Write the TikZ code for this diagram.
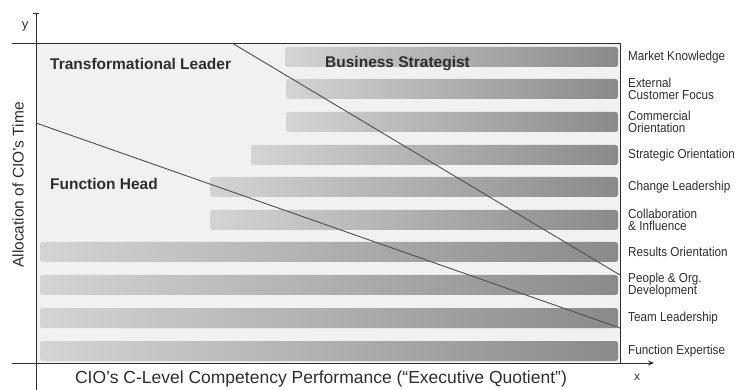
\documentclass[tikz,border=0pt]{standalone}
\usepackage{fontspec}
\setmainfont{Liberation Sans}
\newfontfamily\narrowfont[FakeStretch=0.9]{Liberation Sans}
\usetikzlibrary{arrows.meta,positioning}

\definecolor{plotbg}{HTML}{F1F1F1}
\definecolor{barlight}{HTML}{D4D4D4}
\definecolor{bardark}{HTML}{8A8A8A}
\definecolor{linegray}{HTML}{4E4E4E}
\definecolor{textgray}{HTML}{2E2E2E}

\begin{document}
\begin{tikzpicture}[x=1pt, y=-1pt,
    axis/.style={line width=0.8pt, draw=textgray},
    bar/.style={rounded corners=2.5pt, left color=barlight, right color=bardark},
    role/.style={anchor=west, inner sep=0pt, text=textgray, font=\bfseries\fontsize{15.5}{17}\selectfont},
    skill/.style={anchor=west, inner sep=0pt, align=left, text=textgray,
                  font=\narrowfont\fontsize{13}{12.5}\selectfont},
    trend/.style={line width=0.9pt, draw=linegray}]
    \useasboundingbox (0,0) rectangle (742,390);

    % Plot area
    \fill[plotbg] (36,43) rectangle (620,363);

    % Competency bars with their labels
    \foreach \yc/\xs/\txt [count=\i] in {
        57/285/{Market Knowledge},
        89/286/{External\\Customer Focus},
        122/286/{Commercial\\Orientation},
        155/251/{Strategic Orientation},
        187/210/{Change Leadership},
        220/210/{Collaboration\\\& Influence},
        252/40/{Results Orientation},
        285/40/{People \& Org.\\Development},
        318/40/{Team Leadership},
        351/40/{Function Expertise}} {
        \shade[bar] (\xs,\yc-10) rectangle (618,\yc+10);
        \node[skill] (skill\i) at (628,\yc) {\txt};
    }

    % Frame and axes
    \draw[axis] (12,43) -- (620,43) -- (620,363);
    \draw[axis, -{Bar[width=6pt]}] (36,390) -- (36,13);
    \draw[axis, -{Stealth[length=6pt,width=5pt]}] (12,363) -- (654,363);
    \node[text=textgray, font=\fontsize{13}{13}\selectfont] (ylbl) at (25,26) {y};
    \node[text=textgray, font=\fontsize{12}{12}\selectfont] (xlbl) at (637,377) {x};

    % Role boundaries
    \coordinate (upper-start) at (232,43);
    \coordinate (upper-end) at (620,275);
    \coordinate (lower-start) at (36,123);
    \coordinate (lower-end) at (620,328);
    \draw[trend] (upper-start) -- (upper-end);
    \draw[trend] (lower-start) -- (lower-end);

    % Role names
    \node[role] (transform) at (50,64) {Transformational Leader};
    \node[role] (strategist) at (325,64) {Business Strategist};
    \node[role] (funchead) at (50,184) {Function Head};

    % Axis titles
    \node[rotate=90, text=textgray, font=\fontsize{15.5}{17}\selectfont] (ytitle) at (18,185)
        {Allocation of CIO's Time};
    \node[text=textgray, font=\fontsize{17.5}{19}\selectfont] (xtitle) at (321,379)
        {CIO's C-Level Competency Performance (``Executive Quotient'')};
\end{tikzpicture}
\end{document}
